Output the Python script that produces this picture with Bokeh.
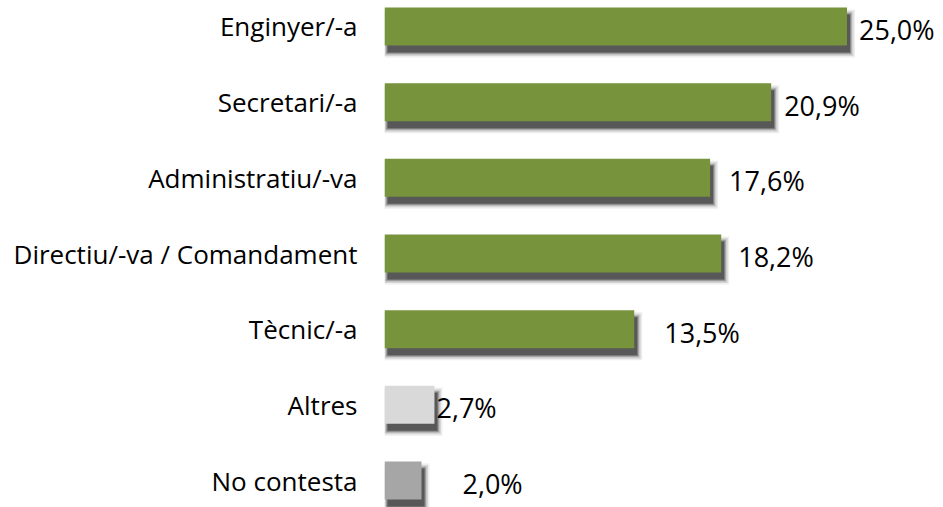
from bokeh.plotting import figure
from bokeh.models import ColumnDataSource, Range1d, FixedTicker
from bokeh.embed import file_html
from bokeh.resources import INLINE
from bokeh.core.properties import value

categories = ["Enginyer/-a", "Secretari/-a", "Administratiu/-va",
              "Directiu/-va / Comandament", "Tècnic/-a", "Altres", "No contesta"]
values = [25.0, 20.9, 17.6, 18.2, 13.5, 2.7, 2.0]
value_labels = ["25,0%", "20,9%", "17,6%", "18,2%", "13,5%", "2,7%", "2,0%"]
bar_colors = ["#77933C", "#77933C", "#77933C", "#77933C", "#77933C", "#D9D9D9", "#A6A6A6"]
label_gap_px = [12, 13, 19, 17, 30, 2, 41]

W, H = 943, 507
LEFT = 384
X_END = (W - LEFT) / 18.5
Y_START, Y_END = 6 + 27 / 75.67, -26 / 75.67
px_x = X_END / (W - LEFT)
px_y = (Y_START - Y_END) / H
bar_h = 38 * px_y

idx = list(range(len(categories)))

p = figure(width=W, height=H, output_backend="svg", toolbar_location=None,
           x_range=Range1d(0, X_END), y_range=Range1d(Y_START, Y_END),
           min_border_left=LEFT, min_border_right=0, min_border_top=0, min_border_bottom=0)
p.background_fill_color = "white"
p.border_fill_color = "white"
p.outline_line_color = None
p.grid.visible = False
p.xaxis.visible = False

# soft drop shadows
for grow, alpha in [(5, 0.08), (3.5, 0.12), (2, 0.2), (1, 0.28), (0, 0.45)]:
    sh = ColumnDataSource(dict(
        y=[i + 7 * px_y for i in idx],
        left=[(3 - grow) * px_x for _ in idx],
        right=[v + (3 + grow) * px_x for v in values],
    ))
    p.hbar(y="y", left="left", right="right", height=bar_h + 2 * grow * px_y,
           source=sh, fill_color="#202020", fill_alpha=alpha, line_color=None)

src = ColumnDataSource(dict(i=idx, v=values, c=bar_colors, lab=value_labels, gap=label_gap_px))
p.hbar(y="i", left=0, right="v", height=bar_h, source=src, fill_color="c", line_color=None)

p.text(x="v", y="i", text="lab", x_offset="gap", y_offset=3, source=src,
       text_font=value("Open Sans"), text_font_size=value("27px"),
       text_baseline="middle", text_align="left", text_color="#000000")

ax = p.yaxis[0]
ax.ticker = FixedTicker(ticks=idx)
ax.major_label_overrides = {i: c for i, c in zip(idx, categories)}
ax.axis_line_color = None
ax.major_tick_line_color = None
ax.minor_tick_line_color = None
ax.major_tick_out = 0
ax.major_tick_in = 0
ax.major_label_standoff = 27
ax.major_label_text_font = "Open Sans"
ax.major_label_text_font_size = "26px"
ax.major_label_text_color = "#000000"

open("out.html", "w").write(file_html(p, INLINE))
